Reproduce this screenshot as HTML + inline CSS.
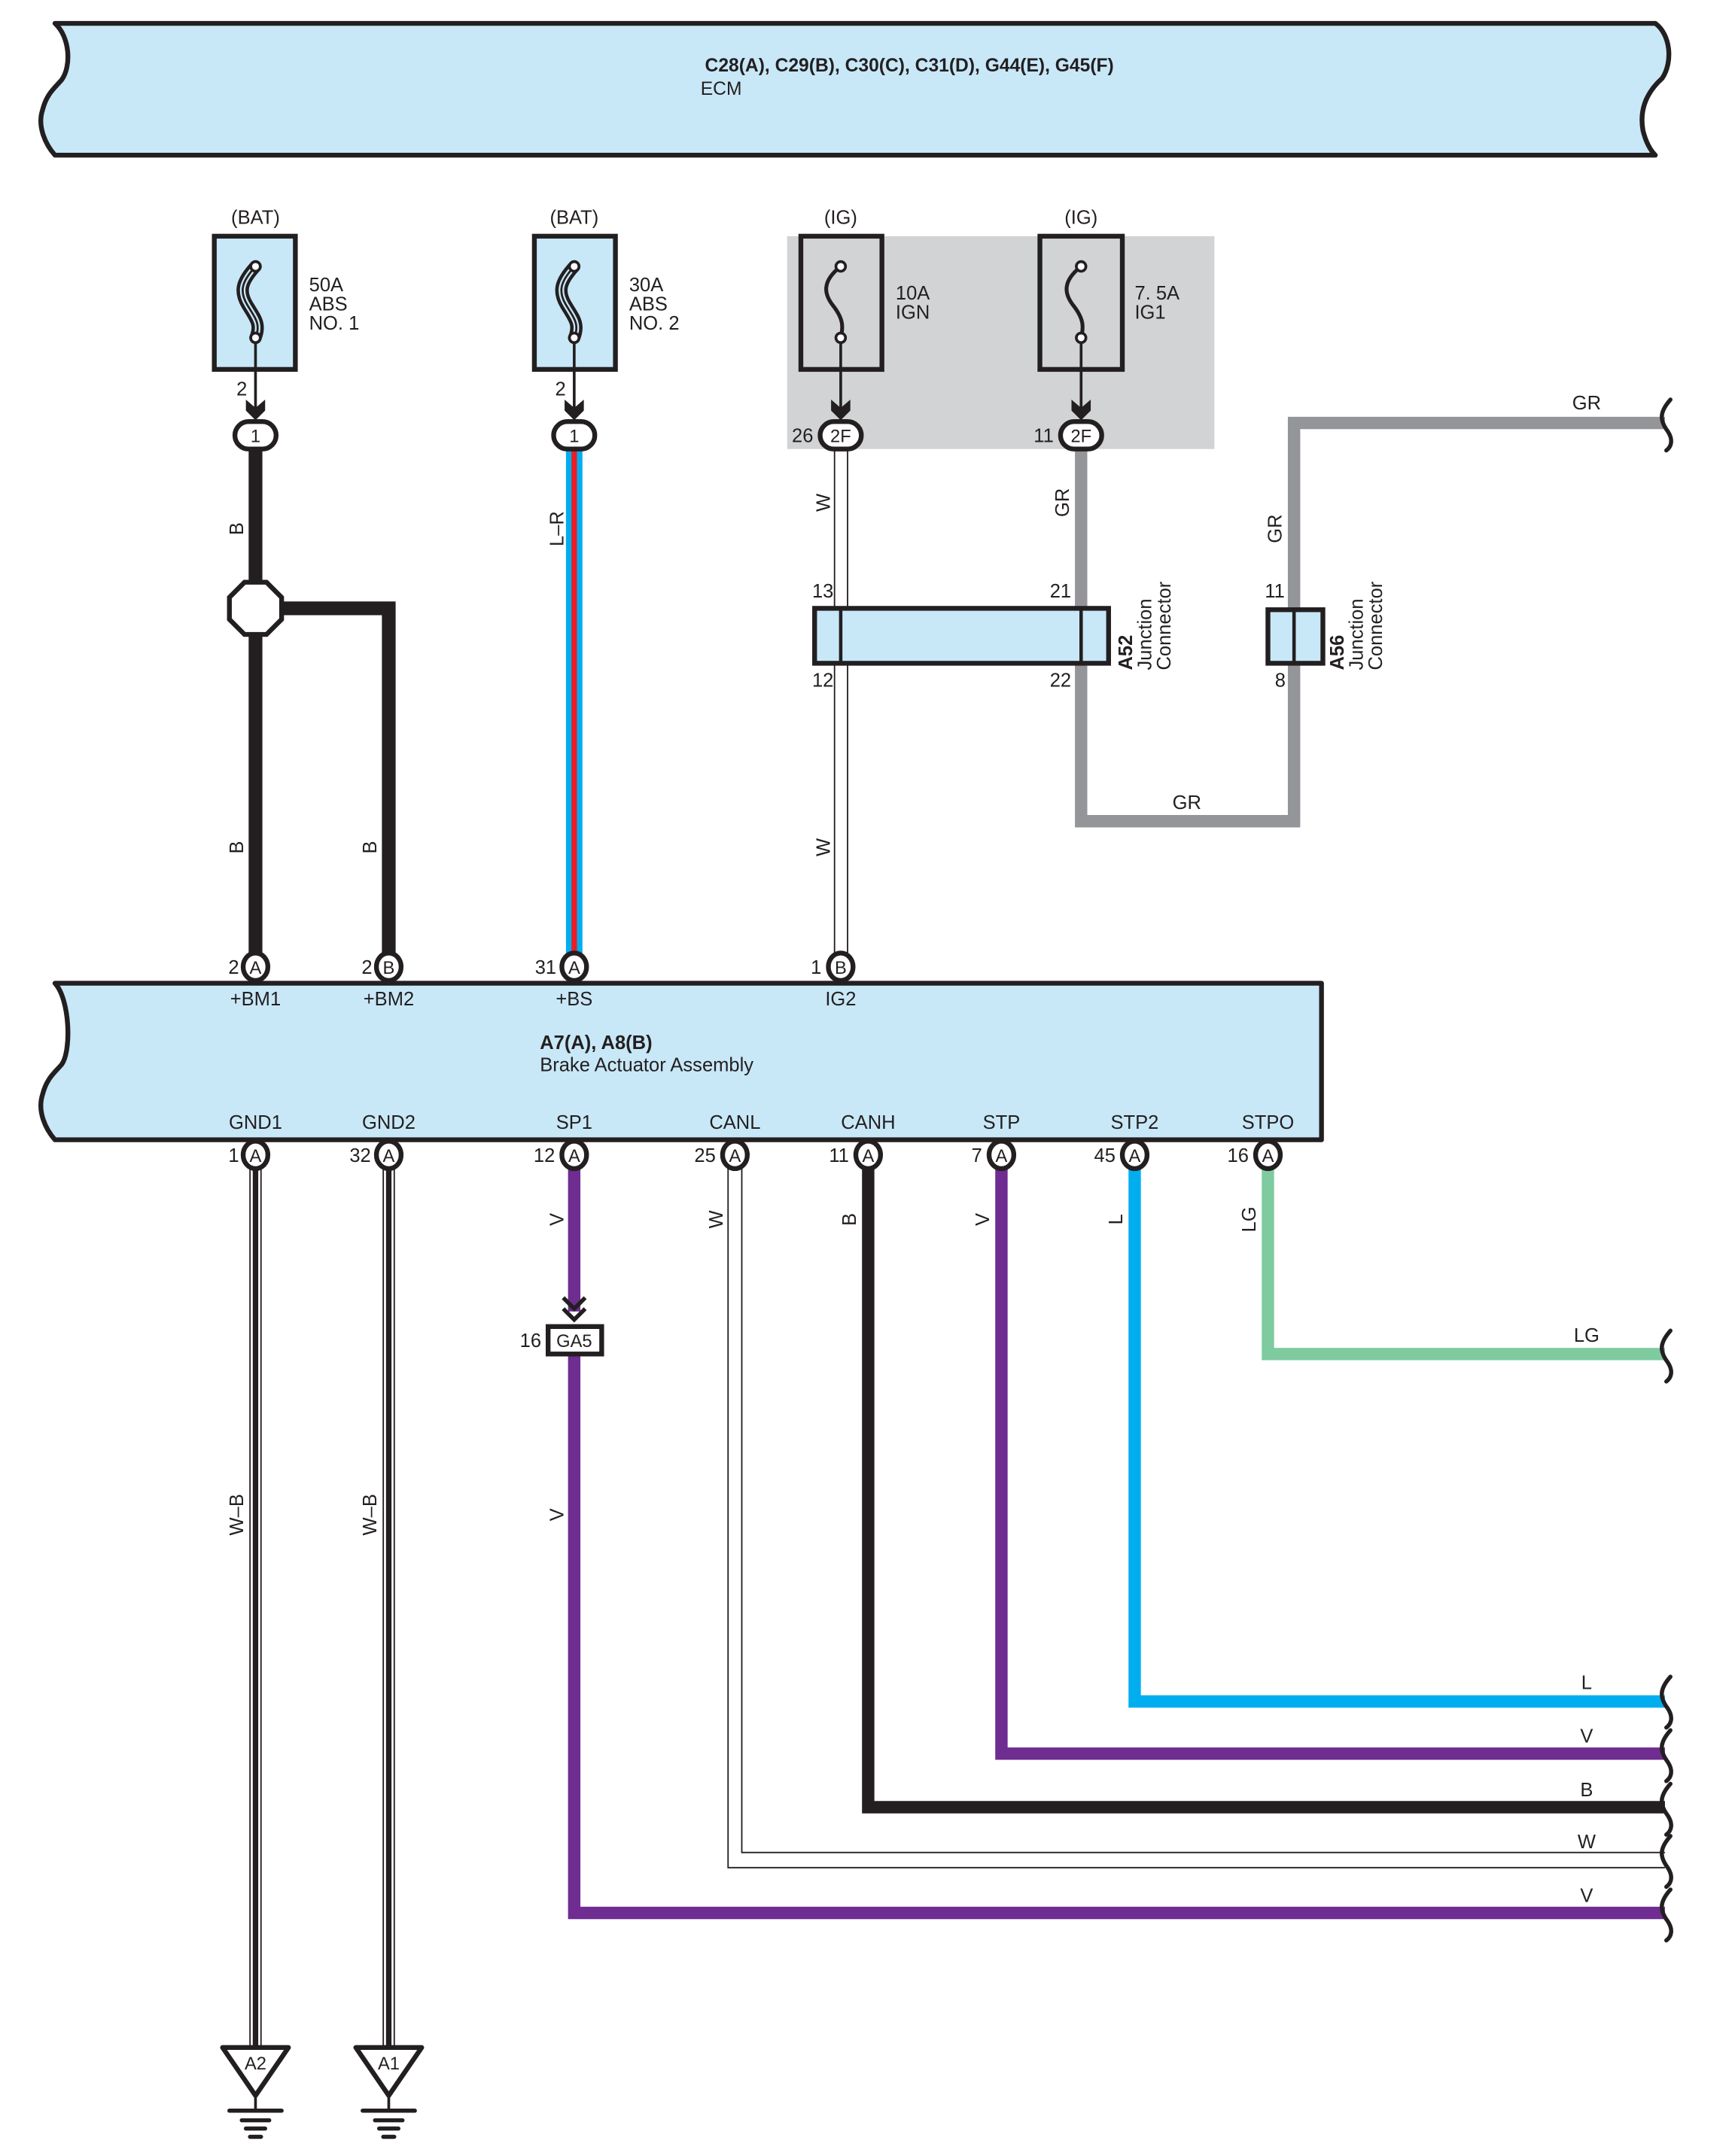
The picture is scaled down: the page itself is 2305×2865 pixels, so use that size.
<!DOCTYPE html>
<html><head><meta charset="utf-8"><style>
html,body{margin:0;padding:0;background:#fff}
svg{display:block}
text{font-family:"Liberation Sans",sans-serif;fill:#231f20}
</style></head><body>
<svg width="2305" height="2865" viewBox="0 0 1263 1570" preserveAspectRatio="none" xmlns="http://www.w3.org/2000/svg">
<defs>
<g id="chev"><polygon points="-7,0 0,6 7,0 7,8 0,15 -7,8" fill="#231f20"/></g>
</defs>
<!-- ECM -->
<path d="M40,17 L1205,17 C1216,25 1218,45 1210,57 C1200,66 1193,78 1196,95 C1198,103 1201,109 1205,113 L40,113 C33,105 27,92 31,80 C34,68 40,64 45,58 C52,48 51,27 40,17 Z" fill="#c8e8f8" stroke="#231f20" stroke-width="3.5" stroke-linejoin="round"/>
<text x="662" y="52" font-size="13.5" font-weight="bold" text-anchor="middle">C28(A), C29(B), C30(C), C31(D), G44(E), G45(F)</text>
<text x="510" y="69" font-size="13.5">ECM</text>

<!-- gray IG box -->
<rect x="573" y="172" width="311" height="155" fill="#d1d3d4"/>

<!-- fuses -->
<g stroke="#231f20" stroke-width="3.5">
<rect x="156" y="172" width="59" height="97" fill="#c8e8f8"/>
<rect x="389" y="172" width="59" height="97" fill="#c8e8f8"/>
<rect x="583" y="172" width="59" height="97" fill="none"/>
<rect x="757" y="172" width="60" height="97" fill="none"/>
</g>
<text x="186" y="163" font-size="14" text-anchor="middle">(BAT)</text>
<text x="418" y="163" font-size="14" text-anchor="middle">(BAT)</text>
<text x="612" y="163" font-size="14" text-anchor="middle">(IG)</text>
<text x="787" y="163" font-size="14" text-anchor="middle">(IG)</text>
<g font-size="14">
<text x="225" y="212">50A</text><text x="225" y="226">ABS</text><text x="225" y="240">NO. 1</text>
<text x="458" y="212">30A</text><text x="458" y="226">ABS</text><text x="458" y="240">NO. 2</text>
<text x="652" y="218">10A</text><text x="652" y="232">IGN</text>
<text x="826" y="218">7. 5A</text><text x="826" y="232">IG1</text>
</g>
<!-- fuse symbols -->
<g fill="none" stroke-linecap="round">
<g transform="translate(186,0)">
<path d="M0,194 C-10,205 -12,212 -6,222 C0,232 4,236 0,246" stroke="#231f20" stroke-width="9"/>
<path d="M0,194 C-10,205 -12,212 -6,222 C0,232 4,236 0,246" stroke="#c8e8f8" stroke-width="4"/>
<path d="M0,194 C-10,205 -12,212 -6,222 C0,232 4,236 0,246" stroke="#231f20" stroke-width="1.5"/>
</g>
<g transform="translate(418,0)">
<path d="M0,194 C-10,205 -12,212 -6,222 C0,232 4,236 0,246" stroke="#231f20" stroke-width="9"/>
<path d="M0,194 C-10,205 -12,212 -6,222 C0,232 4,236 0,246" stroke="#c8e8f8" stroke-width="4"/>
<path d="M0,194 C-10,205 -12,212 -6,222 C0,232 4,236 0,246" stroke="#231f20" stroke-width="1.5"/>
</g>
<path d="M612,194 C598,205 600,214 606,222 C614,232 614,238 612,246" stroke="#231f20" stroke-width="2.8"/>
<path d="M787,194 C773,205 775,214 781,222 C789,232 789,238 787,246" stroke="#231f20" stroke-width="2.8"/>
</g>
<g fill="#fff" stroke="#231f20" stroke-width="2">
<circle cx="186" cy="194" r="3.5"/><circle cx="186" cy="246" r="3.5"/>
<circle cx="418" cy="194" r="3.5"/><circle cx="418" cy="246" r="3.5"/>
<circle cx="612" cy="194" r="3.5"/><circle cx="612" cy="246" r="3.5"/>
<circle cx="787" cy="194" r="3.5"/><circle cx="787" cy="246" r="3.5"/>
</g>
<g stroke="#231f20" stroke-width="2">
<line x1="186" y1="250" x2="186" y2="300"/><line x1="418" y1="250" x2="418" y2="300"/>
<line x1="612" y1="250" x2="612" y2="300"/><line x1="787" y1="250" x2="787" y2="300"/>
</g>
<use href="#chev" x="186" y="291"/><use href="#chev" x="418" y="291"/>
<use href="#chev" x="612" y="291"/><use href="#chev" x="787" y="291"/>
<text x="176" y="288" font-size="14" text-anchor="middle">2</text>
<text x="408" y="288" font-size="14" text-anchor="middle">2</text>
<text x="592" y="322" font-size="14" text-anchor="end">26</text>
<text x="767" y="322" font-size="14" text-anchor="end">11</text>

<!-- wires top -->
<line x1="186" y1="320" x2="186" y2="700" stroke="#231f20" stroke-width="10"/>
<polyline points="186,443 283,443 283,700" fill="none" stroke="#231f20" stroke-width="10"/>
<polygon points="178,424 194,424 205,435 205,451 194,462 178,462 167,451 167,435" fill="#fff" stroke="#231f20" stroke-width="3.5"/>
<rect x="412" y="320" width="12" height="380" fill="#00aeef"/>
<rect x="416" y="320" width="4" height="380" fill="#ed1c24"/>
<line x1="607.5" y1="320" x2="607.5" y2="700" stroke="#231f20" stroke-width="1"/>
<line x1="617" y1="320" x2="617" y2="700" stroke="#231f20" stroke-width="1"/>
<polyline points="787,320 787,598 942,598 942,308 1212,308" fill="none" stroke="#939598" stroke-width="9"/>

<!-- connectors top -->
<g fill="#fff" stroke="#231f20" stroke-width="3.5">
<rect x="171" y="307" width="30" height="20" rx="10"/>
<rect x="403" y="307" width="30" height="20" rx="10"/>
<rect x="597" y="307" width="30" height="20" rx="10"/>
<rect x="772" y="307" width="30" height="20" rx="10"/>
</g>
<g font-size="13" text-anchor="middle">
<text x="186" y="322">1</text><text x="418" y="322">1</text>
<text x="612" y="322">2F</text><text x="787" y="322">2F</text>
</g>

<!-- A52 / A56 -->
<rect x="593" y="443" width="214" height="40" fill="#c8e8f8" stroke="#231f20" stroke-width="3.5"/>
<line x1="612" y1="443" x2="612" y2="483" stroke="#231f20" stroke-width="2.5"/>
<line x1="787" y1="443" x2="787" y2="483" stroke="#231f20" stroke-width="2.5"/>
<rect x="923" y="444" width="40" height="39" fill="#c8e8f8" stroke="#231f20" stroke-width="3.5"/>
<line x1="942" y1="444" x2="942" y2="483" stroke="#231f20" stroke-width="2.5"/>
<g font-size="14" text-anchor="middle">
<text x="599" y="435">13</text><text x="772" y="435">21</text>
<text x="599" y="500">12</text><text x="772" y="500">22</text>
<text x="928" y="435">11</text><text x="932" y="500">8</text>
</g>
<g font-size="14">
<text transform="translate(824,488) rotate(-90)" font-weight="bold">A52</text>
<text transform="translate(838,488) rotate(-90)">Junction</text>
<text transform="translate(852,488) rotate(-90)">Connector</text>
<text transform="translate(978,488) rotate(-90)" font-weight="bold">A56</text>
<text transform="translate(992,488) rotate(-90)">Junction</text>
<text transform="translate(1006,488) rotate(-90)">Connector</text>
</g>
<!-- rotated wire labels top -->
<g font-size="14" text-anchor="middle">
<text transform="translate(177,385) rotate(-90)">B</text>
<text transform="translate(177,617) rotate(-90)">B</text>
<text transform="translate(274,617) rotate(-90)">B</text>
<text transform="translate(410,385) rotate(-90)">L–R</text>
<text transform="translate(604,366) rotate(-90)">W</text>
<text transform="translate(604,617) rotate(-90)">W</text>
<text transform="translate(778,366) rotate(-90)">GR</text>
<text transform="translate(933,385) rotate(-90)">GR</text>
<text x="864" y="589">GR</text>
<text x="1155" y="298">GR</text>
</g>

<!-- bottom wires -->
<g fill="none">
<line x1="182" y1="850" x2="182" y2="1492" stroke="#231f20" stroke-width="1"/>
<line x1="190" y1="850" x2="190" y2="1492" stroke="#231f20" stroke-width="1"/>
<line x1="186" y1="850" x2="186" y2="1492" stroke="#231f20" stroke-width="4"/>
<line x1="279" y1="850" x2="279" y2="1492" stroke="#231f20" stroke-width="1"/>
<line x1="287" y1="850" x2="287" y2="1492" stroke="#231f20" stroke-width="1"/>
<line x1="283" y1="850" x2="283" y2="1492" stroke="#231f20" stroke-width="4"/>
<line x1="418" y1="850" x2="418" y2="955" stroke="#6f2c91" stroke-width="9"/>
<polyline points="418,985 418,1393 1212,1393" stroke="#6f2c91" stroke-width="9"/>
<polyline points="530,850 530,1360 1212,1360" stroke="#231f20" stroke-width="1"/>
<polyline points="540,850 540,1349 1212,1349" stroke="#231f20" stroke-width="1"/>
<polyline points="632,850 632,1316 1212,1316" stroke="#231f20" stroke-width="9"/>
<polyline points="729,850 729,1277 1212,1277" stroke="#6f2c91" stroke-width="9"/>
<polyline points="826,850 826,1239 1212,1239" stroke="#00aeef" stroke-width="9"/>
<polyline points="923,850 923,986 1212,986" stroke="#7fcba0" stroke-width="9"/>
</g>
<!-- GA5 chevrons -->
<g fill="none" stroke="#231f20" stroke-width="3">
<polyline points="410,945 418,953 426,945"/><polyline points="410,953 418,961 426,953"/>
</g>
<rect x="399" y="966" width="39" height="20" fill="#fff" stroke="#231f20" stroke-width="3.5"/>
<text x="418" y="981" font-size="13" text-anchor="middle">GA5</text>
<text x="394" y="981" font-size="14" text-anchor="end">16</text>

<!-- wavy ends -->
<g fill="none" stroke="#231f20" stroke-width="3" stroke-linecap="round">
<path d="M1216,291 C1208,300 1208,306 1214,314 C1218,320 1217,325 1213,328"/>
<path d="M1216,969 C1208,978 1208,984 1214,992 C1218,998 1217,1003 1213,1006"/>
<path d="M1216,1221 C1208,1230 1208,1236 1214,1244 C1218,1250 1217,1255 1213,1258"/>
<path d="M1216,1260 C1208,1269 1208,1275 1214,1283 C1218,1289 1217,1294 1213,1297"/>
<path d="M1216,1299 C1208,1308 1208,1314 1214,1322 C1218,1328 1217,1333 1213,1336"/>
<path d="M1216,1337 C1208,1346 1208,1352 1214,1360 C1218,1366 1217,1371 1213,1374"/>
<path d="M1216,1376 C1208,1385 1208,1391 1214,1399 C1218,1405 1217,1410 1213,1413"/>
</g>
<g font-size="14" text-anchor="middle">
<text x="1155" y="977">LG</text><text x="1155" y="1230">L</text><text x="1155" y="1269">V</text>
<text x="1155" y="1308">B</text><text x="1155" y="1346">W</text><text x="1155" y="1385">V</text>
<text transform="translate(177,1103) rotate(-90)">W–B</text>
<text transform="translate(274,1103) rotate(-90)">W–B</text>
<text transform="translate(410,888) rotate(-90)">V</text>
<text transform="translate(410,1103) rotate(-90)">V</text>
<text transform="translate(526,888) rotate(-90)">W</text>
<text transform="translate(623,888) rotate(-90)">B</text>
<text transform="translate(720,888) rotate(-90)">V</text>
<text transform="translate(817,888) rotate(-90)">L</text>
<text transform="translate(914,888) rotate(-90)">LG</text>
</g>

<!-- ground symbols -->
<g stroke="#231f20" stroke-width="3.5" stroke-linejoin="round" fill="#fff">
<polygon points="162,1491 210,1491 186,1526"/>
<polygon points="259,1491 307,1491 283,1526"/>
</g>
<g stroke="#231f20" stroke-linecap="round">
<line x1="186" y1="1526" x2="186" y2="1537" stroke-width="2"/>
<line x1="283" y1="1526" x2="283" y2="1537" stroke-width="2"/>
<line x1="167" y1="1537" x2="205" y2="1537" stroke-width="3"/>
<line x1="176" y1="1544" x2="196" y2="1544" stroke-width="3"/>
<line x1="179" y1="1550" x2="193" y2="1550" stroke-width="3"/>
<line x1="182" y1="1556" x2="190" y2="1556" stroke-width="3"/>
<line x1="264" y1="1537" x2="302" y2="1537" stroke-width="3"/>
<line x1="273" y1="1544" x2="293" y2="1544" stroke-width="3"/>
<line x1="276" y1="1550" x2="290" y2="1550" stroke-width="3"/>
<line x1="279" y1="1556" x2="287" y2="1556" stroke-width="3"/>
</g>
<text x="186" y="1507" font-size="13" text-anchor="middle">A2</text>
<text x="283" y="1507" font-size="13" text-anchor="middle">A1</text>

<!-- Brake actuator -->
<path d="M40,716 L962,716 L962,830 L40,830 C33,822 27,809 31,797 C34,785 40,781 45,775 C52,765 51,728 40,716 Z" fill="#c8e8f8" stroke="#231f20" stroke-width="3.5" stroke-linejoin="round"/>
<g font-size="14" text-anchor="middle">
<text x="186" y="732">+BM1</text><text x="283" y="732">+BM2</text><text x="418" y="732">+BS</text><text x="612" y="732">IG2</text>
<text x="186" y="822">GND1</text><text x="283" y="822">GND2</text><text x="418" y="822">SP1</text><text x="535" y="822">CANL</text>
<text x="632" y="822">CANH</text><text x="729" y="822">STP</text><text x="826" y="822">STP2</text><text x="923" y="822">STPO</text>
</g>
<text x="393" y="764" font-size="14" font-weight="bold">A7(A), A8(B)</text>
<text x="393" y="780" font-size="14">Brake Actuator Assembly</text>
<!-- pins -->
<g fill="#fff" stroke="#231f20" stroke-width="3.5">
<ellipse cx="186" cy="704" rx="9" ry="10"/><ellipse cx="283" cy="704" rx="9" ry="10"/>
<ellipse cx="418" cy="704" rx="9" ry="10"/><ellipse cx="612" cy="704" rx="9" ry="10"/>
<ellipse cx="186" cy="841" rx="9" ry="10"/><ellipse cx="283" cy="841" rx="9" ry="10"/>
<ellipse cx="418" cy="841" rx="9" ry="10"/><ellipse cx="535" cy="841" rx="9" ry="10"/>
<ellipse cx="632" cy="841" rx="9" ry="10"/><ellipse cx="729" cy="841" rx="9" ry="10"/>
<ellipse cx="826" cy="841" rx="9" ry="10"/><ellipse cx="923" cy="841" rx="9" ry="10"/>
</g>
<g font-size="13" text-anchor="middle">
<text x="186" y="709">A</text><text x="283" y="709">B</text><text x="418" y="709">A</text><text x="612" y="709">B</text>
<text x="186" y="846">A</text><text x="283" y="846">A</text><text x="418" y="846">A</text><text x="535" y="846">A</text>
<text x="632" y="846">A</text><text x="729" y="846">A</text><text x="826" y="846">A</text><text x="923" y="846">A</text>
</g>
<g font-size="14" text-anchor="end">
<text x="174" y="709">2</text><text x="271" y="709">2</text><text x="405" y="709">31</text><text x="598" y="709">1</text>
<text x="174" y="846">1</text><text x="270" y="846">32</text><text x="404" y="846">12</text><text x="521" y="846">25</text>
<text x="618" y="846">11</text><text x="715" y="846">7</text><text x="812" y="846">45</text><text x="909" y="846">16</text>
</g>
</svg>
</body></html>
